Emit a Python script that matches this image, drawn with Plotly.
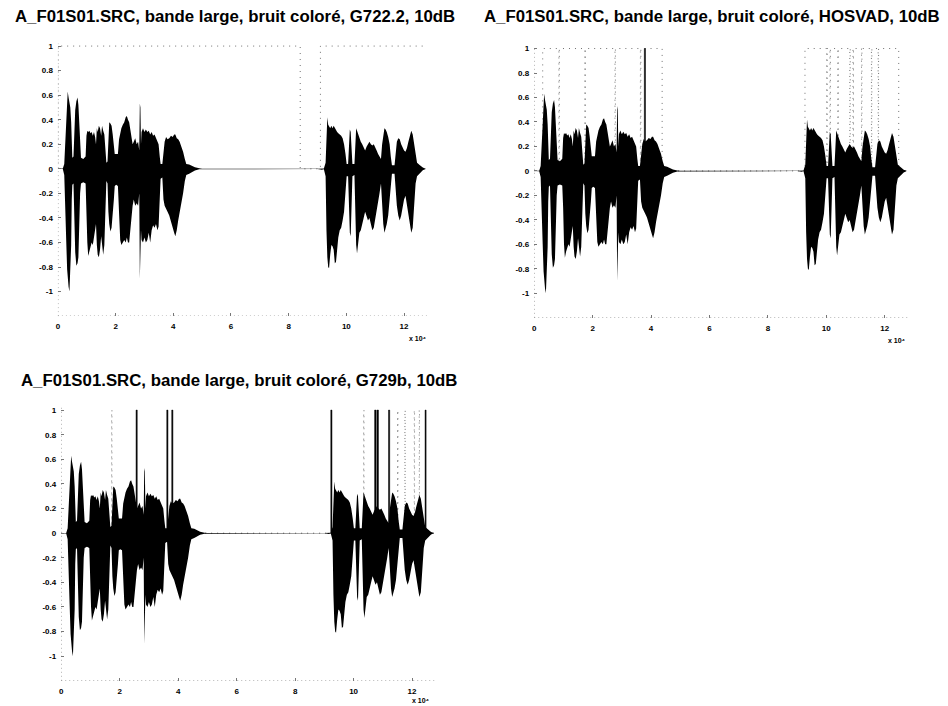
import plotly.graph_objects as go

# Sample index in units of 10^4 samples
SIGNAL_END = 12.8

# Amplitude envelope of the A_F01S01.SRC waveform (upper / lower edge)
env_x = [0.00, 0.17, 0.22, 0.26, 0.29, 0.32, 0.34, 0.37, 0.40, 0.43, 0.46, 0.48, 0.50, 0.54,
         0.57, 0.60, 0.64, 0.68, 0.71, 0.74, 0.77, 0.80, 0.88, 0.96, 0.99, 1.02, 1.05, 1.09,
         1.13, 1.17, 1.21, 1.25, 1.29, 1.32, 1.35, 1.38, 1.42, 1.46, 1.50, 1.53, 1.57, 1.61,
         1.65, 1.68, 1.72, 1.75, 1.78, 1.82, 1.86, 1.90, 1.94, 1.97, 2.02, 2.08, 2.12, 2.16,
         2.20, 2.25, 2.30, 2.35, 2.39, 2.43, 2.47, 2.51, 2.55, 2.59, 2.63, 2.68, 2.73, 2.78,
         2.82, 2.84, 2.86, 2.88, 2.90, 2.95, 3.00, 3.05, 3.10, 3.15, 3.20, 3.25, 3.30, 3.35,
         3.40, 3.45, 3.49, 3.53, 3.56, 3.62, 3.66, 3.70, 3.75, 3.80, 3.86, 3.92, 3.98, 4.03,
         4.07, 4.12, 4.17, 4.22, 4.28, 4.34, 4.40, 4.45, 4.55, 4.65, 4.75, 4.90, 5.00,
         9.00, 9.15, 9.22, 9.28, 9.31, 9.34, 9.37, 9.40, 9.44, 9.48, 9.52, 9.56, 9.60, 9.64,
         9.68, 9.72, 9.77, 9.82, 9.87, 9.92, 9.97, 10.01, 10.06, 10.09, 10.12, 10.15, 10.18,
         10.21, 10.28, 10.31, 10.34, 10.37, 10.41, 10.45, 10.50, 10.55, 10.60, 10.65, 10.70,
         10.75, 10.80, 10.85, 10.90, 10.95, 11.00, 11.05, 11.10, 11.15, 11.20, 11.24, 11.28,
         11.32, 11.36, 11.40, 11.45, 11.50, 11.54, 11.58, 11.67, 11.71, 11.75, 11.80, 11.85,
         11.90, 11.95, 12.00, 12.05, 12.10, 12.15, 12.20, 12.25, 12.30, 12.35, 12.40, 12.45,
         12.55, 12.65, 12.75]
env_hi = [0.001, 0.002, 0.04, 0.28, 0.45, 0.60, 0.63, 0.58, 0.55, 0.50, 0.38, 0.15, 0.09, 0.10,
          0.30, 0.48, 0.55, 0.58, 0.52, 0.35, 0.12, 0.09, 0.08, 0.10, 0.27, 0.31, 0.30, 0.31,
          0.29, 0.30, 0.27, 0.30, 0.26, 0.20, 0.33, 0.30, 0.35, 0.33, 0.27, 0.35, 0.31, 0.28,
          0.15, 0.05, 0.06, 0.30, 0.38, 0.37, 0.35, 0.28, 0.15, 0.12, 0.12, 0.12, 0.24, 0.30,
          0.33, 0.36, 0.38, 0.42, 0.43, 0.40, 0.38, 0.32, 0.25, 0.20, 0.22, 0.25, 0.20, 0.22,
          0.15, 0.53, 0.50, 0.20, 0.30, 0.33, 0.30, 0.32, 0.30, 0.31, 0.28, 0.30, 0.27, 0.28,
          0.25, 0.22, 0.20, 0.10, 0.04, 0.04, 0.15, 0.22, 0.26, 0.24, 0.25, 0.27, 0.26, 0.28,
          0.28, 0.25, 0.24, 0.22, 0.18, 0.14, 0.08, 0.04, 0.035, 0.025, 0.012, 0.004, 0.001,
          0.001, 0.006, 0.003, 0.05, 0.35, 0.42, 0.36, 0.34, 0.33, 0.35, 0.33, 0.35, 0.33, 0.32,
          0.30, 0.29, 0.28, 0.27, 0.25, 0.20, 0.12, 0.04, 0.04, 0.20, 0.32, 0.30, 0.20,
          0.04, 0.04, 0.25, 0.33, 0.31, 0.28, 0.25, 0.22, 0.20, 0.18, 0.15, 0.18,
          0.20, 0.22, 0.20, 0.19, 0.20, 0.18, 0.15, 0.12, 0.10, 0.08, 0.20, 0.27,
          0.33, 0.32, 0.30, 0.26, 0.20, 0.10, 0.03, 0.03, 0.15, 0.22, 0.25, 0.24,
          0.20, 0.17, 0.15, 0.14, 0.17, 0.22, 0.27, 0.31, 0.28, 0.20, 0.10, 0.05,
          0.03, 0.01, 0.001]
env_lo = [-0.001, -0.002, -0.05, -0.30, -0.60, -0.82, -0.90, -0.96, -1.00, -0.88, -0.62, -0.25, -0.13, -0.12,
          -0.40, -0.68, -0.79, -0.77, -0.72, -0.50, -0.20, -0.12, -0.11, -0.12, -0.30, -0.60, -0.71, -0.66,
          -0.63, -0.60, -0.62, -0.58, -0.50, -0.45, -0.62, -0.70, -0.72, -0.66, -0.55, -0.60, -0.70, -0.62,
          -0.30, -0.10, -0.12, -0.35, -0.45, -0.51, -0.48, -0.40, -0.25, -0.14, -0.13, -0.14, -0.30, -0.58,
          -0.62, -0.60, -0.58, -0.60, -0.56, -0.60, -0.60, -0.52, -0.40, -0.30, -0.25, -0.30, -0.28, -0.30,
          -0.20, -0.90, -0.85, -0.50, -0.58, -0.60, -0.56, -0.60, -0.58, -0.52, -0.60, -0.50, -0.46, -0.48,
          -0.45, -0.50, -0.47, -0.25, -0.08, -0.07, -0.25, -0.30, -0.33, -0.35, -0.38, -0.42, -0.48, -0.52,
          -0.55, -0.50, -0.42, -0.35, -0.27, -0.20, -0.10, -0.05, -0.04, -0.03, -0.014, -0.004, -0.001,
          -0.001, -0.007, -0.003, -0.06, -0.50, -0.72, -0.80, -0.81, -0.70, -0.62, -0.63, -0.66, -0.77, -0.76,
          -0.66, -0.56, -0.50, -0.48, -0.42, -0.35, -0.20, -0.06, -0.06, -0.30, -0.52, -0.55, -0.35,
          -0.06, -0.05, -0.40, -0.62, -0.69, -0.60, -0.52, -0.50, -0.45, -0.40, -0.35, -0.38,
          -0.42, -0.40, -0.44, -0.50, -0.48, -0.40, -0.36, -0.28, -0.20, -0.12, -0.30, -0.45,
          -0.52, -0.50, -0.45, -0.38, -0.30, -0.15, -0.04, -0.04, -0.20, -0.30, -0.38, -0.42,
          -0.38, -0.32, -0.25, -0.22, -0.28, -0.35, -0.45, -0.52, -0.48, -0.30, -0.12, -0.06,
          -0.035, -0.012, -0.001]

# Voice activity decisions: intervals where VAD = 1
vad_g722 = [[0.0, 8.4], [9.1, 12.8]]
vad_hosvad = [[0.29, 0.845], [0.86, 1.735], [1.75, 2.765], [2.78, 3.635], [3.65, 4.38],
              [9.27, 10.015], [10.03, 10.125], [10.14, 10.395], [10.41, 10.805],
              [10.82, 10.915], [10.93, 11.205], [11.22, 11.545], [11.56, 11.775],
              [11.79, 12.48]]
vad_g729b = [[1.725, 1.735], [10.345, 10.355], [11.505, 11.515], [11.755, 11.765],
             [12.075, 12.085], [12.245, 12.255]]

# Stretches where the decision toggles frame after frame (drawn as dense bars)
burst_g722 = []
burst_hosvad = [[3.77, 3.81]]
burst_g729b = [[2.56, 2.60], [3.61, 3.65], [3.78, 3.82], [9.22, 9.26], [10.72, 10.77],
               [10.80, 10.85], [11.195, 11.235], [12.445, 12.48]]

titles = ["A_F01S01.SRC, bande large, bruit coloré, G722.2, 10dB",
          "A_F01S01.SRC, bande large, bruit coloré, HOSVAD, 10dB",
          "A_F01S01.SRC, bande large, bruit coloré, G729b, 10dB"]

y_ticks = [1, 0.8, 0.6, 0.4, 0.2, 0, -0.2, -0.4, -0.6, -0.8, -1]
y_tick_text = ["1", "0.8", "0.6", "0.4", "0.2", "0", "-0.2", "-0.4", "-0.6", "-0.8", "-1"]
x_ticks = [0, 2, 4, 6, 8, 10, 12]
x_tick_text = ["0", "2", "4", "6", "8", "10", "12"]
x_scale_label = "x 10⁴"

Y_MIN, Y_MAX = -1.2, 1.02

panels = [
    dict(vad=vad_g722, burst=burst_g722, title=titles[0],
         xd=[0.0591, 0.4494], yd=[0.5538, 0.9409], tpos=(0.2458, 0.980), epos=(0.4400, 0.5215)),
    dict(vad=vad_hosvad, burst=burst_hosvad, title=titles[1],
         xd=[0.5626, 0.9578], yd=[0.5514, 0.9374], tpos=(0.7505, 0.9788), epos=(0.9462, 0.5185)),
    dict(vad=vad_g729b, burst=burst_g729b, title=titles[2],
         xd=[0.0626, 0.4582], yd=[0.0358, 0.4238], tpos=(0.2510, 0.4618), epos=(0.4430, 0.0080)),
]


def vad_series(intervals, end):
    xs, ys = [0.0], [0.0]
    for s, e in intervals:
        xs += [s, s, e]
        ys += [0, 1, 1]
        if e < end:
            xs.append(e)
            ys.append(0)
    if xs[-1] < end:
        xs.append(end)
        ys.append(ys[-1])
    return xs, ys


def burst_polys(bursts):
    xs, ys = [], []
    for s, e in bursts:
        xs += [s, e, e, s, s, None]
        ys += [0, 0, 1, 1, 0, None]
    return xs, ys


FONT = "Liberation Sans, Arial, sans-serif"
fig = go.Figure()
tick_font = dict(family=FONT, size=8, color="black", weight="bold")
shapes, annotations = [], []
layout_axes = {}

env_poly_x = env_x + env_x[::-1]
env_poly_y = env_hi + env_lo[::-1]

for i, p in enumerate(panels, start=1):
    xa = "x" if i == 1 else f"x{i}"
    ya = "y" if i == 1 else f"y{i}"

    vx, vy = vad_series(p["vad"], SIGNAL_END)
    fig.add_trace(go.Scatter(x=vx, y=vy, mode="lines", xaxis=xa, yaxis=ya,
                             line=dict(color="#707070", width=1, dash="1px,5px"),
                             showlegend=False, hoverinfo="skip"))
    if p["burst"]:
        bx, by = burst_polys(p["burst"])
        fig.add_trace(go.Scatter(x=bx, y=by, mode="lines", fill="toself", fillcolor="black",
                                 xaxis=xa, yaxis=ya, line=dict(color="black", width=0.5),
                                 showlegend=False, hoverinfo="skip"))
    fig.add_trace(go.Scatter(x=env_poly_x, y=env_poly_y, mode="lines", fill="toself",
                             fillcolor="black", xaxis=xa, yaxis=ya,
                             line=dict(color="black", width=0),
                             showlegend=False, hoverinfo="skip"))

    xkey = "xaxis" if i == 1 else f"xaxis{i}"
    ykey = "yaxis" if i == 1 else f"yaxis{i}"
    layout_axes[xkey] = dict(domain=p["xd"], anchor=ya, range=[0, SIGNAL_END],
                             tickvals=x_ticks, ticktext=x_tick_text, ticks="inside",
                             ticklen=3, tickcolor="#777", tickfont=tick_font,
                             ticklabelstandoff=4,
                             showgrid=False, zeroline=False, showline=False)
    layout_axes[ykey] = dict(domain=p["yd"], anchor=xa, range=[Y_MIN, Y_MAX],
                             tickvals=y_ticks, ticktext=y_tick_text, ticks="inside",
                             ticklen=3, tickcolor="#777", tickfont=tick_font,
                             ticklabelstandoff=4,
                             showgrid=False, zeroline=False, showline=False)

    # dotted left and bottom axis lines
    shapes.append(dict(type="line", xref=xa, yref=f"{ya} domain", x0=0, x1=0, y0=0, y1=1,
                       line=dict(color="#777", width=1, dash="1px,3px")))
    shapes.append(dict(type="line", xref=f"{xa} domain", yref=ya, x0=0, x1=1, y0=Y_MIN, y1=Y_MIN,
                       line=dict(color="#777", width=1, dash="1px,3px")))

    annotations.append(dict(text=p["title"], x=p["tpos"][0], y=p["tpos"][1],
                            xref="paper", yref="paper", showarrow=False,
                            xanchor="center", yanchor="middle",
                            font=dict(family=FONT, size=16.8, color="black", weight="bold")))
    annotations.append(dict(text=x_scale_label, x=p["epos"][0], y=p["epos"][1],
                            xref="paper", yref="paper", showarrow=False,
                            xanchor="center", yanchor="middle",
                            font=dict(family=FONT, size=7, color="black", weight="bold")))

fig.update_layout(width=948, height=706, margin=dict(l=0, r=0, t=0, b=0),
                  paper_bgcolor="white", plot_bgcolor="white",
                  shapes=shapes, annotations=annotations, **layout_axes)

fig.write_html("out.html")
